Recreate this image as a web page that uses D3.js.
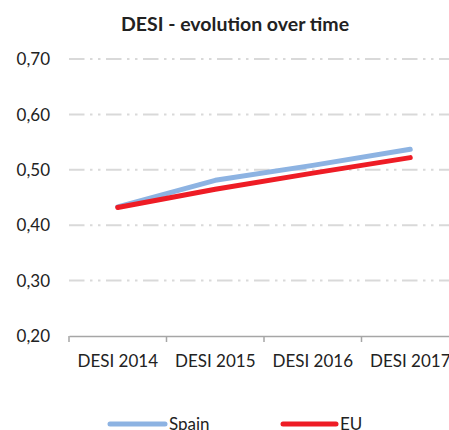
<!DOCTYPE html>
<html><head><meta charset="utf-8">
<script src="https://cdn.jsdelivr.net/npm/d3@7"></script>
<style>
html,body{margin:0;padding:0;background:#fff;overflow:hidden}
svg{display:block;font-family:Lato,"Open Sans",sans-serif}
</style></head><body>
<svg id="c" width="449" height="430"></svg>
<script>
const categories = ["DESI 2014","DESI 2015","DESI 2016","DESI 2017"];
const spain = [0.433, 0.481, 0.508, 0.537];
const eu = [0.432, 0.465, 0.494, 0.522];
const yTicks = [0.20,0.30,0.40,0.50,0.60,0.70];
const seriesNames = ["Spain","EU"];
const seriesColors = ["#8db3e2","#ee1c25"];

const svg = d3.select("#c");
const x = d3.scaleBand().domain(categories).range([69, 459]);
const y = d3.scaleLinear().domain([0.2,0.7]).range([336, 59]);

svg.append("text").attr("x",235).attr("y",31).attr("text-anchor","middle")
  .attr("font-weight","bold").attr("font-size",19.5).attr("fill","#222").text("DESI - evolution over time");

// grid
svg.append("g").selectAll("line").data(yTicks.filter(d=>d>0.2)).join("line")
  .attr("x1",69).attr("x2",459).attr("y1",d=>y(d)).attr("y2",d=>y(d))
  .attr("stroke","#d9d9d9").attr("stroke-width",2)
  .attr("stroke-dasharray","15.5 5.5 2.5 5.5 2.5 5.5");

// y labels
svg.append("g").selectAll("text").data(yTicks).join("text")
  .attr("x",50).attr("y",d=>y(d)).attr("dy","0.36em").attr("text-anchor","end")
  .attr("font-size",17).attr("fill","#222").text(d=>d.toFixed(2).replace(".",","));

// x axis
const xAxis = d3.axisBottom(x).tickSize(0).tickPadding(19);
const gx = svg.append("g").attr("transform","translate(0,336)").call(xAxis);
gx.select(".domain").attr("stroke","#a6a6a6").attr("stroke-width",1.5);
gx.selectAll("text").attr("font-size",17).attr("fill","#222").attr("font-family","Lato,sans-serif");
const bounds = categories.map(c=>x(c)).concat([x.range()[1]]);
gx.selectAll(".bnd").data(bounds).join("line").attr("class","bnd")
  .attr("x1",d=>d).attr("x2",d=>d).attr("y1",0).attr("y2",6).attr("stroke","#a6a6a6").attr("stroke-width",1.5);

const line = d3.line().x((d,i)=>x(categories[i])+x.bandwidth()/2).y(d=>y(d));
[spain, eu].forEach((s,k)=>{
  svg.append("path").datum(s).attr("d",line).attr("fill","none")
    .attr("stroke",seriesColors[k]).attr("stroke-width",5).attr("stroke-linecap","round").attr("stroke-linejoin","round");
});

// legend
const lg = [{x1:110,x2:165,tx:169},{x1:283,x2:336,tx:340}];
lg.forEach((l,k)=>{
  svg.append("line").attr("x1",l.x1).attr("x2",l.x2).attr("y1",424).attr("y2",424)
    .attr("stroke",seriesColors[k]).attr("stroke-width",5).attr("stroke-linecap","round");
  svg.append("text").attr("x",l.tx).attr("y",430).attr("font-size",17).attr("fill","#222").text(seriesNames[k]);
});
</script></body></html>
